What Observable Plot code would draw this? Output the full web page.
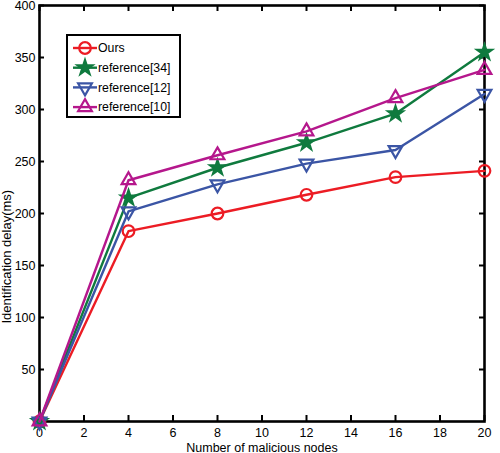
<!DOCTYPE html>
<html>
<head>
<meta charset="utf-8">
<script src="https://cdn.jsdelivr.net/npm/d3@7"></script>
<script src="https://cdn.jsdelivr.net/npm/@observablehq/plot@0.6"></script>
<style>
  html, body { margin: 0; padding: 0; background: #fff; }
  #chart svg { display: block; }
</style>
</head>
<body>
<div id="chart"></div>
<script>
const xs = [0, 4, 8, 12, 16, 20];
const ours = [0, 183, 200, 218, 235, 241];
const ref34 = [0, 215, 244, 268, 296, 355];
const ref12 = [0, 202, 228, 248, 261, 315];
const ref10 = [0, 232, 256, 279, 311, 338];
const seriesNames = ["Ours", "reference[34]", "reference[12]", "reference[10]"];
const seriesValues = [ours, ref34, ref12, ref10];
const colors = ["#ec1c24", "#0f7a3e", "#3b55a5", "#b5178c"];
const xTicks = [0, 2, 4, 6, 8, 10, 12, 14, 16, 18, 20];
const yTicks = [50, 100, 150, 200, 250, 300, 350, 400];
const xLabel = "Number of malicious nodes";
const yLabel = "Identification delay(ms)";

const sqrt3 = Math.sqrt(3);
const triangleDown = {
  draw(context, size) {
    const y = -Math.sqrt(size / (sqrt3 * 3));
    context.moveTo(0, -y * 2);
    context.lineTo(-sqrt3 * y, y);
    context.lineTo(sqrt3 * y, y);
    context.closePath();
  }
};
const symbols = [d3.symbolCircle, d3.symbolStar, triangleDown, d3.symbolTriangle];
const filled = [false, true, false, false];
const radii = [5.8, 4.6, 5.1, 5.1];

const rows = [];
seriesNames.forEach((name, i) => {
  xs.forEach((x, j) => rows.push({series: name, x, y: seriesValues[i][j]}));
});

const font = "'Liberation Sans', Arial, sans-serif";

const marks = [
  Plot.frame({stroke: "black", strokeWidth: 2.6}),
  Plot.tickX(xTicks, {x: d => d, stroke: "black", strokeWidth: 2, insetTop: 410}),
  Plot.tickX(xTicks, {x: d => d, stroke: "black", strokeWidth: 2, insetBottom: 410}),
  Plot.tickY(yTicks, {y: d => d, stroke: "black", strokeWidth: 2, insetRight: 440}),
  Plot.tickY(yTicks, {y: d => d, stroke: "black", strokeWidth: 2, insetLeft: 440}),
  Plot.axisX({ticks: xTicks, tickSize: 0, tickPadding: 7, label: xLabel, labelAnchor: "center", labelArrow: "none", labelOffset: 30, fontSize: 12.5}),
  Plot.axisY({ticks: yTicks, tickSize: 0, tickPadding: 4, label: null, fontSize: 12.5}),
  Plot.text([yLabel], {text: d => d, frameAnchor: "left", rotate: -90, dx: -33, dy: 110, lineAnchor: "middle", textAnchor: "start", fontSize: 13, ariaLabel: "ylabel"})
];
seriesNames.forEach((name, i) => {
  const data = rows.filter(d => d.series === name);
  marks.push(Plot.line(data, {x: "x", y: "y", stroke: colors[i], strokeWidth: 2.4}));
  marks.push(Plot.dot(data, {
    x: "x", y: "y", symbol: () => symbols[i], r: radii[i],
    stroke: colors[i], strokeWidth: 2.2,
    fill: filled[i] ? colors[i] : "none"
  }));
});

const svg = Plot.plot({
  width: 500,
  height: 453,
  marginLeft: 39,
  marginRight: 16,
  marginTop: 5,
  marginBottom: 32,
  style: {fontFamily: font, fontSize: "12.5px", color: "black", background: "white"},
  x: {domain: [0, 20]},
  y: {domain: [0, 400]},
  marks
});

d3.select(svg).selectAll('g[aria-label="ylabel"] text')
  .attr("textLength", 176).attr("lengthAdjust", "spacingAndGlyphs");

// Legend
const lg = d3.select(svg).append("g").attr("font-family", font).attr("font-size", 12.3).attr("text-anchor", "start");
lg.append("rect").attr("x", 67).attr("y", 35).attr("width", 113).attr("height", 82)
  .attr("fill", "white").attr("stroke", "black").attr("stroke-width", 2);
seriesNames.forEach((name, i) => {
  const y = 48 + i * 19.7;
  lg.append("line").attr("x1", 73).attr("x2", 97).attr("y1", y).attr("y2", y)
    .attr("stroke", colors[i]).attr("stroke-width", 2.4);
  lg.append("path").attr("transform", `translate(85,${y})`)
    .attr("d", d3.symbol(symbols[i], radii[i] * radii[i] * Math.PI)())
    .attr("stroke", colors[i]).attr("stroke-width", 2.2)
    .attr("fill", filled[i] ? colors[i] : "none");
  lg.append("text").attr("x", 98).attr("y", y).attr("dy", "0.35em").text(name);
});

document.getElementById("chart").appendChild(svg);
</script>
</body>
</html>
